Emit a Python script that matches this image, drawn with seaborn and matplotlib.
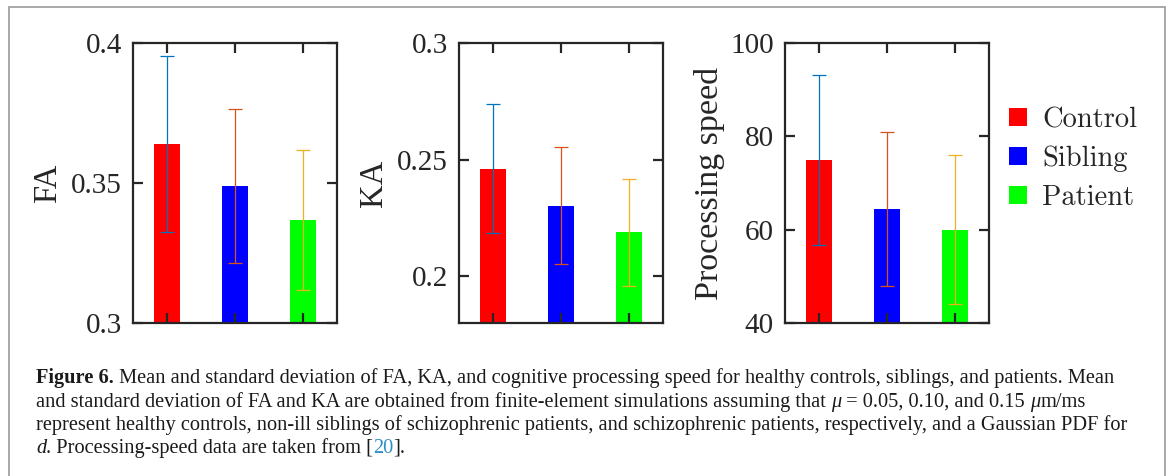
import matplotlib
matplotlib.use("Agg")
import matplotlib.pyplot as plt
import matplotlib.patches as mpatches
import seaborn as sns
import pandas as pd

# ---- data ----
groups = ["Control", "Sibling", "Patient"]
bar_colors = ["#FF0000", "#0000FF", "#00FF00"]
err_colors = ["#0072BD", "#D95319", "#EDB120"]

fa_mean = [0.3639, 0.3490, 0.3368]
fa_sd = [0.0313, 0.0275, 0.0250]
ka_mean = [0.2461, 0.2303, 0.2188]
ka_sd = [0.0276, 0.0250, 0.0229]
ps_mean = [75.0, 64.5, 60.0]
ps_sd = [18.2, 16.5, 16.0]

fa_ticks = [0.3, 0.35, 0.4]
fa_ticklabels = ["0.3", "0.35", "0.4"]
ka_ticks = [0.2, 0.25, 0.3]
ka_ticklabels = ["0.2", "0.25", "0.3"]
ps_ticks = [40, 60, 80, 100]
ps_ticklabels = ["40", "60", "80", "100"]

sns.set_style("ticks")
plt.rcParams["font.family"] = ["Liberation Serif", "DejaVu Serif"]
plt.rcParams.update({
    "xtick.direction": "in", "ytick.direction": "in",
    "xtick.top": True, "xtick.bottom": True,
    "ytick.left": True, "ytick.right": True,
})

W, H = 1171, 476
fig = plt.figure(figsize=(W / 100, H / 100), dpi=100)
fig.patch.set_facecolor("white")

def fx(px):
    return px / W

def fy(py):
    return 1 - py / H

panels = [
    (133, fa_mean, fa_sd, (0.3, 0.4), fa_ticks, fa_ticklabels, "FA", 6, 23.5),
    (459, ka_mean, ka_sd, (0.18, 0.3), ka_ticks, ka_ticklabels, "KA", 6, 23.5),
    (785, ps_mean, ps_sd, (40, 100), ps_ticks, ps_ticklabels, "Processing speed", 4, 24.5),
]
ax_w = 204
top, bottom = 43, 323
spine_c = "#262626"

for left, means, sds, ylim, ticks, tlabels, ylabel, lp, ls in panels:
    ax = fig.add_axes([fx(left), fy(bottom), fx(ax_w), (bottom - top) / H])
    df = pd.DataFrame({"group": groups, "value": means})
    sns.barplot(data=df, x="group", y="value", hue="group", palette=bar_colors,
                order=groups, hue_order=groups, width=0.37, saturation=1,
                errorbar=None, linewidth=0, legend=False, ax=ax, zorder=1)
    for i, (m, s) in enumerate(zip(means, sds)):
        ax.errorbar(i, m, yerr=s, fmt="none", ecolor=err_colors[i],
                    elinewidth=0.9, capsize=4.7, capthick=0.9, zorder=5)
    ax.set_xlim(-0.5, 2.5)
    ax.set_ylim(*ylim)
    ax.set_yticks(ticks)
    ax.set_yticklabels(tlabels)
    ax.set_xticks([0, 1, 2])
    ax.set_xticklabels(["", "", ""])
    ax.set_xlabel("")
    ax.set_ylabel(ylabel, fontsize=ls, labelpad=lp, color="#262626")
    ax.tick_params(axis="both", which="major", direction="in", length=7.2,
                   width=1.6, color=spine_c, labelsize=21,
                   labelcolor="#262626", pad=8)
    ax.tick_params(axis="x", bottom=True, top=True, labelbottom=False)
    ax.tick_params(axis="y", left=True, right=True)
    ax.xaxis.set_zorder(20)
    ax.yaxis.set_zorder(20)
    for sp in ax.spines.values():
        sp.set_visible(True)
        sp.set_linewidth(1.6)
        sp.set_color(spine_c)
        sp.set_zorder(21)
    ax.set_facecolor("white")

# legend
handles = [mpatches.Patch(facecolor=c, edgecolor="none", label=g)
           for g, c in zip(groups, bar_colors)]
fig.legend(handles=handles, loc="upper left",
           bbox_to_anchor=(fx(1009), fy(107)), frameon=False,
           prop={"family": "cmr10", "size": 20.5}, handlelength=0.62,
           handleheight=0.6, handletextpad=0.55, labelspacing=0.44,
           borderaxespad=0, borderpad=0)

# frame
frame = mpatches.Rectangle((fx(9), fy(520)), fx(1165 - 9), (520 - 7) / H,
                           transform=fig.transFigure, fill=False,
                           edgecolor="#9a9a9a", linewidth=1.2, clip_on=False)
fig.patches.append(frame)

# caption
cap_size = 14.7
renderer = fig.canvas.get_renderer()

def place_line(segments, x_px, y_px):
    x = x_px
    for txt, kw in segments:
        t = fig.text(fx(x), fy(y_px), txt, fontsize=cap_size, va="baseline",
                     ha="left", color=kw.get("color", "#1a1a1a"),
                     fontweight=kw.get("weight", "normal"),
                     fontstyle=kw.get("style", "normal"))
        bb = t.get_window_extent(renderer=renderer)
        x += bb.width

lines = [
    [("Figure 6.", {"weight": "bold"}),
     (" Mean and standard deviation of FA, KA, and cognitive processing speed for healthy controls, siblings, and patients. Mean", {})],
    [("and standard deviation of FA and KA are obtained from finite-element simulations assuming that ", {}),
     ("\u03bc", {"style": "italic"}), (" = 0.05, 0.10, and 0.15 ", {}),
     ("\u03bc", {"style": "italic"}), ("m/ms", {})],
    [("represent healthy controls, non-ill siblings of schizophrenic patients, and schizophrenic patients, respectively, and a Gaussian PDF for", {})],
    [("d", {"style": "italic"}), (". Processing-speed data are taken from [", {}),
     ("20", {"color": "#2a8fc9"}), ("].", {})],
]
baselines = [383, 407, 430, 453]
for segs, yb in zip(lines, baselines):
    place_line(segs, 36, yb)

fig.savefig("out.png", dpi=100, facecolor="white")
